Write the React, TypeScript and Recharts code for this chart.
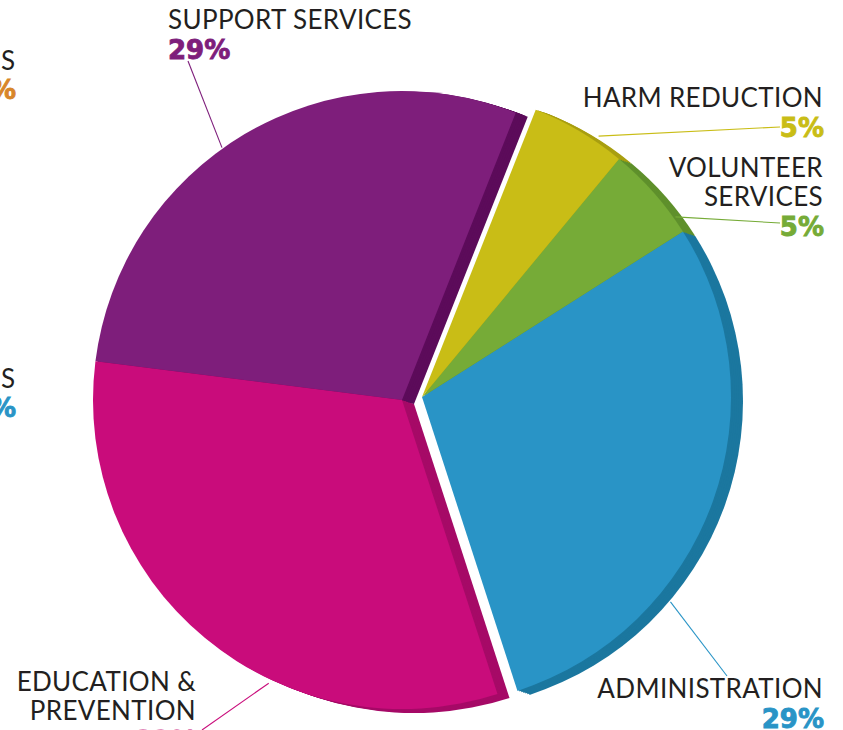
import React from 'react';
import { PieChart, Pie, Cell } from 'recharts';

// ---------- data ----------
const categories = ['ADMINISTRATION', 'VOLUNTEER SERVICES', 'HARM REDUCTION', 'SUPPORT SERVICES', 'EDUCATION & PREVENTION'];
const labelLines = [['ADMINISTRATION'], ['VOLUNTEER', 'SERVICES'], ['HARM REDUCTION'], ['SUPPORT SERVICES'], ['EDUCATION &', 'PREVENTION']];
const shares = [29, 5, 5, 29, 32];
const exploded = [true, true, true, false, false];

// ---------- styles ----------
const faceColors = ['#2994c6', '#76ab37', '#c9bd16', '#7e1e7b', '#c90c7b'];
const sideColors = ['#1b779f', '#5f902c', '#a99f11', '#5c0b5a', '#a60a67'];
const TEXT = '#231f20';
const FONT = 'Lato, "Open Sans", sans-serif';
const PCT_FONT = '"DejaVu Sans", Lato, sans-serif';

// ---------- layout ----------
const W = 843;
const H = 730;
const CX = 402;
const CY = 400;
const R = 309;
const START_ANGLE = -72;
const EXPLODE = { dx: 20, dy: -3 };
const DEPTH = { dx: 12, dy: 4 };
const DEPTH_STEPS = 6;
const LINE_H = 29;
const PCT_GAP = 30;

// label layout: leader start angle/radius extra, leader end point, text anchor point
const labelLayout = [
  { angle: -39.5, extra: 13, end: [727, 676], x: 823, y: 698, anchor: 'end' },
  { angle: 35.4, extra: 2, end: [780, 223], x: 823, y: 177, anchor: 'end' },
  { angle: 55.9, extra: 6, end: [780, 127], x: 823, y: 107, anchor: 'end' },
  { angle: 125.5, extra: 1, end: [188, 61], x: 168, y: 29, anchor: 'start' },
  { angle: 244.8, extra: 4, end: [202, 730], x: 196, y: 691, anchor: 'end' },
];

const total = shares.reduce((a, b) => a + b, 0);
const rows = categories.map((name, idx) => ({ name, value: shares[idx], idx }));

function groupInfo(isExploded: boolean) {
  const groupRows = rows.filter((r) => exploded[r.idx] === isExploded);
  const firstIdx = groupRows[0].idx;
  const before = shares.slice(0, firstIdx).reduce((a, b) => a + b, 0);
  const sum = groupRows.reduce((a, r) => a + r.value, 0);
  const start = START_ANGLE + (before / total) * 360;
  const end = start + (sum / total) * 360;
  return { groupRows, start, end };
}

const groups = [
  { ...groupInfo(false), ox: 0, oy: 0 },
  { ...groupInfo(true), ox: EXPLODE.dx, oy: EXPLODE.dy },
];

const RAD = Math.PI / 180;

function renderLabel(props: any) {
  const i = props.idx ?? props.payload?.idx;
  const lay = labelLayout[i];
  if (!lay) return null;
  const cx = Number(props.cx);
  const cy = Number(props.cy);
  const r = Number(props.outerRadius) + lay.extra;
  const sx = cx + r * Math.cos(lay.angle * RAD);
  const sy = cy - r * Math.sin(lay.angle * RAD);
  const lines = labelLines[i];
  const pctY = lay.y + (lines.length - 1) * LINE_H + PCT_GAP;
  const pctX = lay.anchor === 'end' ? lay.x + 1 : lay.x;
  return (
    <g key={`lab-${i}`}>
      <line x1={sx} y1={sy} x2={lay.end[0]} y2={lay.end[1]} stroke={faceColors[i]} strokeWidth={1.1} />
      {lines.map((t, k) => (
        <text
          key={k}
          x={lay.x}
          y={lay.y + k * LINE_H}
          textAnchor={lay.anchor as any}
          fill={TEXT}
          fontFamily={FONT}
          fontSize={26}
          fontWeight={400}
          letterSpacing={0.35}
        >
          {t}
        </text>
      ))}
      <text
        x={pctX}
        y={pctY}
        textAnchor={lay.anchor as any}
        fill={faceColors[i]}
        stroke={faceColors[i]}
        strokeWidth={0.9}
        fontFamily={PCT_FONT}
        fontSize={26}
        fontWeight={700}
      >
        {`${props.value}%`}
      </text>
    </g>
  );
}

export default function App() {
  const pies: React.ReactNode[] = [];
  groups.forEach((g, gi) => {
    for (let k = DEPTH_STEPS; k >= 1; k--) {
      const f = k / DEPTH_STEPS;
      pies.push(
        <Pie
          key={`side-${gi}-${k}`}
          data={g.groupRows}
          dataKey="value"
          nameKey="name"
          cx={CX + g.ox + DEPTH.dx * f}
          cy={CY + g.oy + DEPTH.dy * f}
          innerRadius={0}
          outerRadius={R}
          startAngle={g.start}
          endAngle={g.end}
          stroke="none"
          label={false}
          labelLine={false}
          isAnimationActive={false}
        >
          {g.groupRows.map((r) => (
            <Cell key={r.name} fill={sideColors[r.idx]} stroke="none" />
          ))}
        </Pie>
      );
    }
    pies.push(
      <Pie
        key={`face-${gi}`}
        data={g.groupRows}
        dataKey="value"
        nameKey="name"
        cx={CX + g.ox}
        cy={CY + g.oy}
        innerRadius={0}
        outerRadius={R}
        startAngle={g.start}
        endAngle={g.end}
        stroke="none"
        label={renderLabel}
        labelLine={false}
        isAnimationActive={false}
      >
        {g.groupRows.map((r) => (
          <Cell key={r.name} fill={faceColors[r.idx]} stroke="none" />
        ))}
      </Pie>
    );
  });

  return (
    <div style={{ position: 'absolute', left: 0, top: 0, width: W, height: H, overflow: 'hidden', background: '#fff' }}>
      <PieChart width={W} height={H} margin={{ top: 0, right: 0, bottom: 0, left: 0 }}>
        {pies}
      </PieChart>
      <svg
        width={W}
        height={H}
        style={{ position: 'absolute', left: 0, top: 0, pointerEvents: 'none' }}
      >
        <text x={15} y={70} textAnchor="end" fill={TEXT} fontFamily={FONT} fontSize={26}>S</text>
        <text x={16} y={99} textAnchor="end" fill="#d8862a" stroke="#d8862a" strokeWidth={0.9} fontFamily={PCT_FONT} fontSize={26} fontWeight={700}>%</text>
        <text x={15} y={388} textAnchor="end" fill={TEXT} fontFamily={FONT} fontSize={26}>S</text>
        <text x={16} y={417} textAnchor="end" fill="#2994c6" stroke="#2994c6" strokeWidth={0.9} fontFamily={PCT_FONT} fontSize={26} fontWeight={700}>%</text>
      </svg>
    </div>
  );
}
